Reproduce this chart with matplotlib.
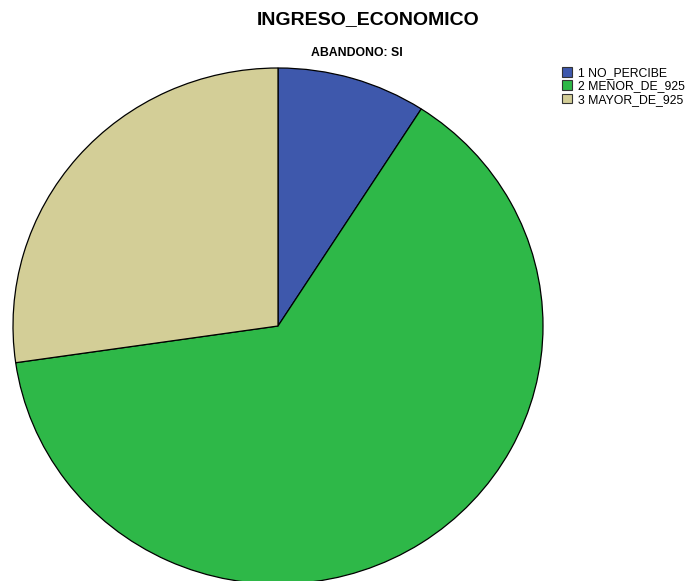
import matplotlib.pyplot as plt
from matplotlib.patches import Patch

plt.rcParams['font.family'] = ['Liberation Sans', 'DejaVu Sans']

categories = ["1 NO_PERCIBE", "2 MENOR_DE_925", "3 MAYOR_DE_925"]
counts = [1, 7, 3]
colors = ["#3e58ac", "#2eb848", "#d3ce97"]

W, H = 691, 581
fig = plt.figure(figsize=(W / 100, H / 100), dpi=100)

# pie centre ~ (278, 326) px, radii 265 x 258 px
cx, cy, rx, ry = 278, 326, 265, 258
ax = fig.add_axes([(cx - rx) / W, (H - cy - ry) / H, 2 * rx / W, 2 * ry / H])
ax.pie(counts, colors=colors, startangle=90, counterclock=False,
       wedgeprops=dict(edgecolor="black", linewidth=0.9))
ax.set_aspect("auto")
ax.set_xlim(-1, 1)
ax.set_ylim(-1, 1)
ax.axis("off")

fig.text(368 / W, 1 - 20 / H, "INGRESO_ECONOMICO", ha="center", va="center",
         fontsize=14, fontweight="bold")
fig.text(357 / W, 1 - 53 / H, "ABANDONO: SI", ha="center", va="center",
         fontsize=8.8, fontweight="bold")

handles = [Patch(facecolor=c, edgecolor="#333333", linewidth=0.8) for c in colors]
fig.legend(handles, categories, loc="upper left", bbox_to_anchor=(562 / W, 1 - 67 / H),
           frameon=False, fontsize=8.8, handlelength=0.85, handleheight=0.85,
           handletextpad=0.45, labelspacing=0.1, borderpad=0, borderaxespad=0)

fig.savefig("out.png", dpi=100)
